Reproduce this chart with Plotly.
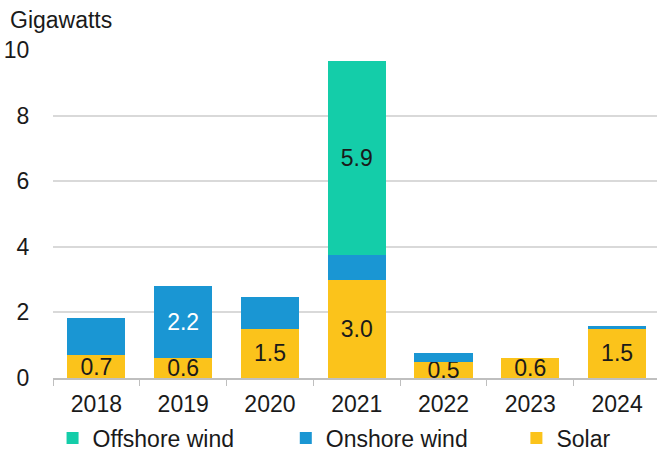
import plotly.graph_objects as go

years = ["2018", "2019", "2020", "2021", "2022", "2023", "2024"]
solar = [0.7, 0.6, 1.5, 3.0, 0.5, 0.6, 1.5]
onshore = [1.13, 2.2, 0.97, 0.75, 0.25, 0.0, 0.1]
offshore = [0.0, 0.0, 0.0, 5.9, 0.0, 0.0, 0.0]

solar_text = ["0.7", "0.6", "1.5", "3.0", "0.5", "0.6", "1.5"]
onshore_text = ["", "2.2", "", "", "", "", ""]
offshore_text = ["", "", "", "5.9", "", "", ""]

FONT = "Liberation Sans, Arial, sans-serif"
TXT = "#1a1a1a"
FS = 23

fig = go.Figure()
fig.add_trace(go.Bar(
    x=years, y=solar, name="Solar", legend="legend3",
    marker=dict(color="#FBC31B", line_width=0),
    text=solar_text, textposition="inside", insidetextanchor="middle",
    textfont=dict(color=TXT, size=FS, family=FONT),
))
fig.add_trace(go.Bar(
    x=years, y=onshore, name="Onshore wind", legend="legend2",
    marker=dict(color="#1A96D3", line_width=0),
    text=onshore_text, textposition="inside", insidetextanchor="middle",
    textfont=dict(color="white", size=FS, family=FONT),
))
fig.add_trace(go.Bar(
    x=years, y=offshore, name="Offshore wind", legend="legend",
    marker=dict(color="#14CDA9", line_width=0),
    text=offshore_text, textposition="inside", insidetextanchor="middle",
    textfont=dict(color=TXT, size=FS, family=FONT),
))


def legend_box(xpos):
    return dict(
        orientation="h", xref="container", yref="container",
        x=xpos, xanchor="left", y=0.031, yanchor="middle",
        font=dict(size=FS, family=FONT, color=TXT),
        itemwidth=30, bgcolor="rgba(0,0,0,0)",
    )


fig.update_layout(
    width=657, height=452,
    margin=dict(l=53, r=0, t=50, b=74),
    barmode="stack", bargap=0.33,
    plot_bgcolor="white", paper_bgcolor="white",
    font=dict(family=FONT, size=FS, color=TXT),
    uniformtext=dict(minsize=FS, mode="show"),
    showlegend=True,
    legend=legend_box(0.080),
    legend2=legend_box(0.435),
    legend3=legend_box(0.786),
    annotations=[dict(
        text="Gigawatts", xref="paper", yref="paper", x=-0.0745, y=1.0,
        xanchor="left", yanchor="middle", yshift=30, showarrow=False,
        font=dict(size=FS, family=FONT, color=TXT),
    )],
)
fig.update_xaxes(
    type="category", range=[-0.5, 6.46],
    showline=True, linecolor="#bfbfbf", linewidth=1.5,
    ticks="outside", tickson="boundaries", ticklen=6, tickcolor="#bfbfbf",
    showgrid=False, tickfont=dict(size=FS), ticklabelstandoff=5,
)
fig.update_yaxes(
    range=[0, 10], dtick=2, showgrid=True, gridcolor="#d9d9d9", gridwidth=1.5,
    zeroline=False, showline=False,
    ticks="outside", ticklen=18, tickcolor="rgba(0,0,0,0)",
    tickfont=dict(size=FS),
)

fig.write_html("out.html")
